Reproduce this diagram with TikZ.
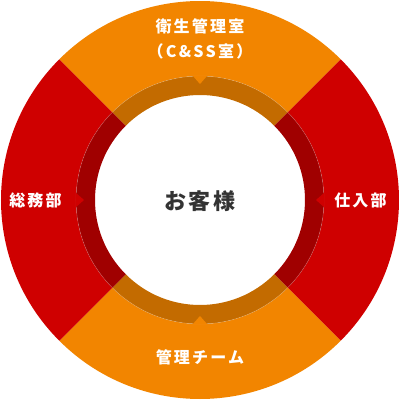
\documentclass[tikz,border=0pt]{standalone}
\usepackage{fontspec}
\usepackage{xcolor}
\usepackage{tikz}
\newfontfamily\jpfont{Noto Sans CJK JP}
\definecolor{segorange}{HTML}{F28500}
\definecolor{segred}{HTML}{CF0000}
\definecolor{bandorange}{HTML}{C36B00}
\definecolor{bandred}{HTML}{A00000}
\definecolor{custgray}{HTML}{333333}

\begin{document}
\begin{tikzpicture}[
    x=1pt, y=1pt,
    seglabel/.style={font=\jpfont\bfseries\fontsize{16}{19}\selectfont\addfontfeatures{LetterSpace=14},
                     text=white, inner sep=0pt},
    custlabel/.style={font=\jpfont\bfseries\fontsize{22}{26}\selectfont\addfontfeatures{LetterSpace=10},
                      text=custgray, inner sep=0pt},
  ]
  \useasboundingbox (-200,-200) rectangle (200,200);

  % four segments of the ring: middle angle, outer colour, band colour
  \foreach \ang/\light/\dark in {90/segorange/bandorange, 0/segred/bandred,
                                 270/segorange/bandorange, 180/segred/bandred}{
    \fill[\light] ({\ang-45}:199) arc[start angle=\ang-45, end angle=\ang+45, radius=199]
      -- ({\ang+45}:124) arc[start angle=\ang+45, end angle=\ang-45, radius=124] -- cycle;
    \fill[\dark] ({\ang-45}:124) arc[start angle=\ang-45, end angle=\ang+45, radius=124]
      -- ({\ang+45}:105) arc[start angle=\ang+45, end angle=\ang-45, radius=105] -- cycle;
    \draw[white, opacity=0.25, line width=0.5pt]
      ({\ang-45}:124) arc[start angle=\ang-45, end angle=\ang+45, radius=124];
    % notch pointing at the centre
    \fill[\light] ({\ang-3.4}:124.6) -- (\ang:116) -- ({\ang+3.4}:124.6) -- cycle;
  }

  \node[seglabel] (hygiene)  at (0,173.5)   {衛生管理室};
  \node[seglabel] (hygsub)   at (0,148.5)   {（C\&SS室）};
  \node[seglabel] (general)  at (-164.5,0)  {総務部};
  \node[seglabel] (purchase) at (160.5,0)   {仕入部};
  \node[seglabel] (manage)   at (0,-157)    {管理チーム};
  \node[custlabel] (customer) at (0,-1)     {お客様};
\end{tikzpicture}
\end{document}
